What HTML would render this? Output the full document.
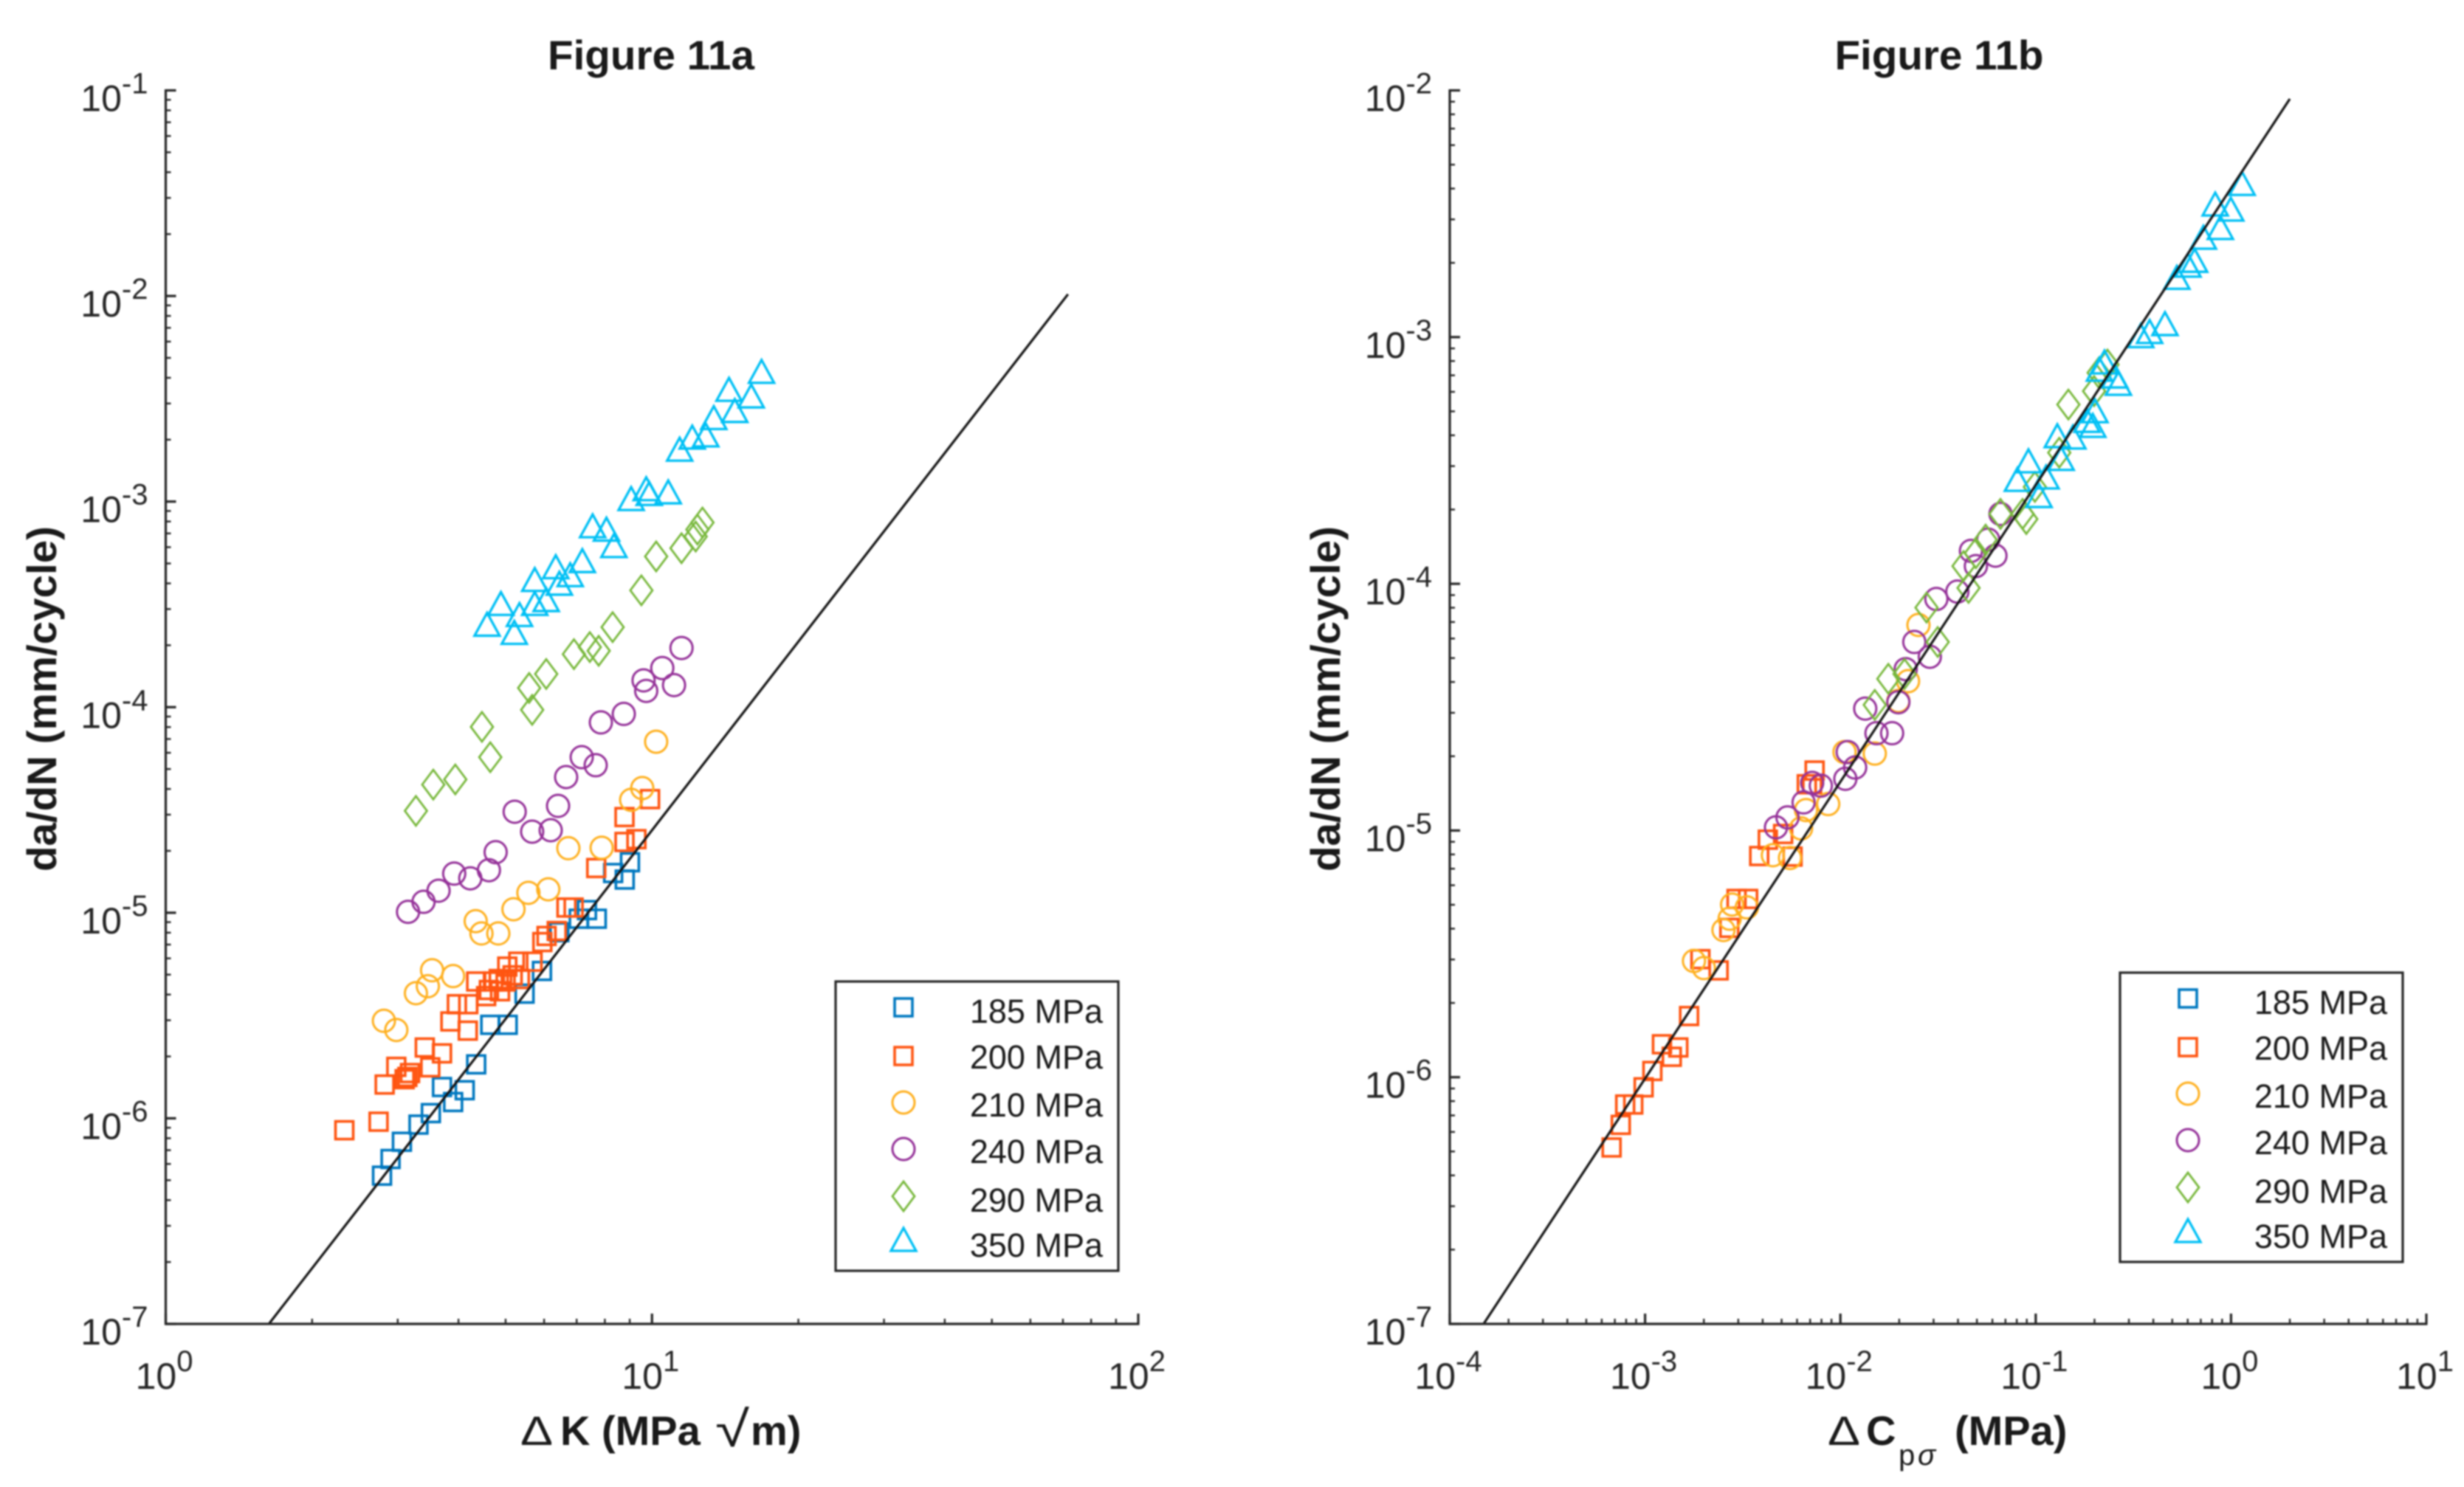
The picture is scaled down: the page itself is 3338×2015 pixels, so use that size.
<!DOCTYPE html>
<html lang="en">
<head>
<meta charset="utf-8">
<title>Figure 11a and 11b: crack growth rate</title>
<style>
html,body{margin:0;padding:0;background:#fff;}
#fig{display:block;filter:blur(1px);}
text{font-family:"Liberation Sans","DejaVu Sans",sans-serif;fill:#262626;}
.tick{font-size:50px;}
.title,.lab{font-size:56px;font-weight:bold;fill:#1a1a1a;}
.leg{font-size:45px;fill:#1a1a1a;}
</style>
</head>
<body>
<svg id="fig" xmlns="http://www.w3.org/2000/svg" width="3338" height="2015" viewBox="0 0 3338 2015">
  <rect width="3338" height="2015" fill="#ffffff"/>
  <g id="panelA">
    <text class="title" x="882" y="94" text-anchor="middle" textLength="280" lengthAdjust="spacingAndGlyphs">Figure 11a</text>
    <text class="lab" transform="translate(76,947) rotate(-90)" text-anchor="middle" textLength="468" lengthAdjust="spacingAndGlyphs">da/dN (mm/cycle)</text>
    <g>
      <text class="lab" x="705" y="1958" style="font-weight:normal" textLength="44" lengthAdjust="spacingAndGlyphs">Δ</text>
      <text class="lab" x="759" y="1958">K (MPa</text>
      <text class="lab" x="969" y="1960" style="font-weight:normal;font-size:68px" textLength="46" lengthAdjust="spacingAndGlyphs">√</text>
      <text class="lab" x="1017" y="1958">m)</text>
    </g>
  </g>
  <g id="panelB">
    <text class="title" x="2627" y="94" text-anchor="middle" textLength="283" lengthAdjust="spacingAndGlyphs">Figure 11b</text>
    <text class="lab" transform="translate(1815,947) rotate(-90)" text-anchor="middle" textLength="468" lengthAdjust="spacingAndGlyphs">da/dN (mm/cycle)</text>
    <g>
      <text class="lab" x="2476" y="1958" style="font-weight:normal" textLength="44" lengthAdjust="spacingAndGlyphs">Δ</text>
      <text class="lab" x="2528" y="1958">C</text>
      <text x="2572" y="1985" style="font-size:40px;fill:#1a1a1a">p</text>
      <text x="2598" y="1985" style="font-size:40px;font-style:italic;fill:#1a1a1a">σ</text>
      <text class="lab" x="2648" y="1958">(MPa)</text>
    </g>
  </g>
</svg>
<script>
// Legend and series definitions
const seriesLabels = ['185 MPa','200 MPa','210 MPa','240 MPa','290 MPa','350 MPa'];
const seriesColors = ['#0078C0','#FF5511','#FFB01F','#953299','#78B83C','#00C0F5'];
const seriesShapes = ['square','square','circle','circle','diamond','triangle'];

// Figure 11a: delta K (MPa sqrt m) vs da/dN (mm/cycle)
const a185X = [2.785,2.90,3.06,3.31,3.51,3.90,4.12,3.70,4.35,4.65,5.05,5.47,5.94,6.45,7.07,7.35,7.70,8.32,8.79,9.01];
const a185Y = [5.26e-7,6.34e-7,7.69e-7,9.32e-7,1.06e-6,1.20e-6,1.37e-6,1.42e-6,1.83e-6,2.85e-6,2.85e-6,4.04e-6,5.21e-6,8.04e-6,9.35e-6,1.03e-5,9.35e-6,1.56e-5,1.45e-5,1.76e-5];
const a200X = [2.33,2.74,2.82,2.98,3.10,3.18,3.14,3.41,3.50,3.70,3.85,4.18,3.97,4.19,4.35,4.56,4.62,4.87,4.71,4.84,5.00,5.17,5.04,5.31,5.35,5.68,5.95,6.07,6.37,6.67,6.90,7.68,8.78,8.78,9.29,9.91];
const a200Y = [8.75e-7,9.63e-7,1.46e-6,1.78e-6,1.55e-6,1.66e-6,1.59e-6,2.21e-6,1.77e-6,2.07e-6,2.96e-6,2.67e-6,3.59e-6,3.59e-6,4.63e-6,3.93e-6,4.21e-6,4.15e-6,4.63e-6,4.76e-6,4.63e-6,4.96e-6,5.47e-6,5.78e-6,4.76e-6,5.78e-6,7.20e-6,7.71e-6,8.15e-6,1.06e-5,1.06e-5,1.65e-5,2.92e-5,2.21e-5,2.28e-5,3.57e-5];
const a210X = [2.81,2.98,3.53,3.90,3.46,3.27,4.34,4.46,4.83,5.19,5.57,6.12,6.73,7.88,9.06,9.55,10.2];
const a210Y = [2.98e-6,2.69e-6,5.25e-6,4.92e-6,4.39e-6,4.06e-6,9.10e-6,7.93e-6,7.93e-6,1.04e-5,1.25e-5,1.30e-5,2.06e-5,2.07e-5,3.54e-5,4.04e-5,6.79e-5];
const a240X = [3.15,3.39,3.64,3.92,4.23,4.62,4.77,5.22,5.67,6.19,6.41,6.66,7.17,7.66,7.85,8.75,9.61,9.73,10.5,11.1,11.5];
const a240Y = [1.01e-5,1.13e-5,1.28e-5,1.55e-5,1.47e-5,1.61e-5,1.97e-5,3.10e-5,2.48e-5,2.52e-5,3.31e-5,4.57e-5,5.71e-5,5.22e-5,8.43e-5,9.27e-5,1.35e-4,1.20e-4,1.55e-4,1.28e-4,1.94e-4];
const a290X = [3.27,3.55,3.94,4.65,4.47,5.67,5.59,6.06,6.91,7.45,7.77,8.30,9.51,10.2,11.5,12.3,12.4,12.7];
const a290Y = [3.13e-5,4.20e-5,4.45e-5,5.71e-5,8.02e-5,9.70e-5,1.24e-4,1.45e-4,1.81e-4,1.96e-4,1.88e-4,2.45e-4,3.70e-4,5.41e-4,5.93e-4,6.76e-4,7.31e-4,7.91e-4];
const a350X = [4.58,4.89,5.21,5.34,5.74,6.06,5.74,6.34,6.45,6.79,7.19,7.55,8.06,8.35,9.06,9.73,9.87,10.8,11.4,12.1,12.9,13.4,14.8,14.4,16.0,16.8];
const a350Y = [2.52e-4,3.18e-4,2.30e-4,2.81e-4,3.18e-4,3.32e-4,4.16e-4,4.80e-4,3.99e-4,4.39e-4,5.14e-4,7.59e-4,7.31e-4,6.08e-4,1.03e-3,1.15e-3,1.09e-3,1.11e-3,1.79e-3,2.05e-3,2.10e-3,2.55e-3,2.76e-3,3.50e-3,3.25e-3,4.28e-3];
const aFitX = [1.63,71.7];
const aFitY = [1e-7,1.02e-2];
const aXTickExps = [0,1,2];
const aYTickExps = [-7,-6,-5,-4,-3,-2,-1];

// Figure 11b: delta C p-sigma (MPa) vs da/dN (mm/cycle); no 185 MPa marks are visible
const b185X = [];
const b185Y = [];
const b200X = [6.74e-4,7.51e-4,7.91e-4,8.70e-4,9.83e-4,1.09e-3,1.22e-3,1.37e-3,1.48e-3,1.68e-3,2.38e-3,1.92e-3,2.70e-3,2.94e-3,3.37e-3,3.84e-3,4.25e-3,5.09e-3,5.69e-3,6.73e-3,7.38e-3,7.17e-3];
const b200Y = [5.19e-7,6.41e-7,7.75e-7,7.75e-7,9.10e-7,1.06e-6,1.36e-6,1.21e-6,1.32e-6,1.77e-6,2.71e-6,3.01e-6,4.03e-6,5.28e-6,5.28e-6,7.88e-6,9.18e-6,9.68e-6,7.84e-6,1.54e-5,1.75e-5,1.54e-5];
const b210X = [1.78e-3,2.00e-3,2.79e-3,3.32e-3,2.52e-3,2.71e-3,4.51e-3,5.52e-3,6.29e-3,6.67e-3,8.66e-3,1.05e-2,1.50e-2,1.98e-2,2.22e-2,2.51e-2];
const b210Y = [2.96e-6,2.77e-6,5.01e-6,4.88e-6,3.95e-6,4.39e-6,7.94e-6,7.74e-6,1.02e-5,1.21e-5,1.28e-5,2.08e-5,2.05e-5,3.35e-5,4.03e-5,6.81e-5];
const b240X = [4.68e-3,5.36e-3,6.48e-3,7.17e-3,7.94e-3,1.06e-2,1.19e-2,1.09e-2,1.53e-2,1.84e-2,1.34e-2,1.98e-2,2.16e-2,2.87e-2,2.39e-2,3.10e-2,3.97e-2,4.66e-2,6.22e-2,4.94e-2,5.71e-2,6.60e-2];
const b240Y = [1.03e-5,1.13e-5,1.30e-5,1.56e-5,1.52e-5,1.62e-5,1.80e-5,2.08e-5,2.48e-5,2.48e-5,3.12e-5,3.31e-5,4.51e-5,5.06e-5,5.81e-5,8.68e-5,9.30e-5,1.36e-4,1.30e-4,1.18e-4,1.51e-4,1.92e-4];
const b290X = [1.50e-2,1.76e-2,2.13e-2,3.15e-2,2.76e-2,4.53e-2,4.27e-2,4.94e-2,5.54e-2,6.60e-2,8.57e-2,8.95e-2,9.90e-2,0.132,0.147,0.199,0.210,0.233];
const b290Y = [3.23e-5,4.12e-5,4.31e-5,5.81e-5,8.01e-5,9.62e-5,1.18e-4,1.33e-4,1.51e-4,1.92e-4,1.92e-4,1.83e-4,2.47e-4,3.40e-4,5.33e-4,6.04e-4,7.17e-4,7.74e-4];
const b350X = [8.06e-2,9.18e-2,0.104,0.113,0.135,0.129,0.155,0.183,0.196,0.201,0.212,0.225,0.254,0.265,0.345,0.383,0.459,0.528,0.602,0.651,0.722,0.882,0.830,0.997,1.14];
const b350Y = [2.64e-4,3.14e-4,2.27e-4,2.70e-4,3.21e-4,3.97e-4,3.92e-4,4.58e-4,4.37e-4,5.01e-4,7.38e-4,7.90e-4,6.93e-4,6.47e-4,1.01e-3,1.05e-3,1.13e-3,1.74e-3,1.95e-3,2.04e-3,2.53e-3,2.77e-3,3.45e-3,3.29e-3,4.18e-3];
const bFitX = [1.49e-4,2.0];
const bFitY = [1e-7,9.24e-3];
const bXTickExps = [-4,-3,-2,-1,0,1];
const bYTickExps = [-7,-6,-5,-4,-3,-2];

const NS = 'http://www.w3.org/2000/svg';
const INK = '#262626';

function node(parent, tag, attrs) {
  const el = document.createElementNS(NS, tag);
  for (const k in attrs) el.setAttribute(k, attrs[k]);
  parent.appendChild(el);
  return el;
}

function marker(parent, shape, color, cx, cy) {
  const base = {fill: 'none', stroke: color};
  let el;
  if (shape === 'square') {
    el = node(parent, 'rect', Object.assign(base, {x: cx - 12, y: cy - 12, width: 24, height: 24, 'stroke-width': 3.6}));
  } else if (shape === 'circle') {
    el = node(parent, 'circle', Object.assign(base, {cx: cx, cy: cy, r: 15, 'stroke-width': 3}));
  } else if (shape === 'diamond') {
    const pts = [[cx, cy - 20], [cx + 15, cy], [cx, cy + 20], [cx - 15, cy]].map(p => p.join(',')).join(' ');
    el = node(parent, 'polygon', Object.assign(base, {points: pts, 'stroke-width': 2.8}));
  } else {
    const pts = [[cx, cy - 16], [cx + 17, cy + 15], [cx - 17, cy + 15]].map(p => p.join(',')).join(' ');
    el = node(parent, 'polygon', Object.assign(base, {points: pts, 'stroke-width': 3.3}));
  }
  return el;
}

function powerLabel(parent, exp, x, y, anchor, name) {
  const t = node(parent, 'text', {class: 'tick', x: x, y: y, 'text-anchor': anchor});
  
  
  const base = node(t, 'tspan', {});
  base.textContent = '10';
  const sup = node(t, 'tspan', {dy: -24, style: 'font-size:40px'});
  sup.textContent = String(exp);
  return t;
}

function drawPanel(p) {
  const root = document.getElementById(p.rootId);
  const xMin = p.xExps[0], xMax = p.xExps[p.xExps.length - 1];
  const yMin = p.yExps[0], yMax = p.yExps[p.yExps.length - 1];
  const sx = v => p.left + (Math.log10(v) - xMin) / (xMax - xMin) * (p.right - p.left);
  const sy = v => p.bottom - (Math.log10(v) - yMin) / (yMax - yMin) * (p.bottom - p.top);

  // Series marks, drawn first so the fit line and axes sit on top
  const seriesGroup = node(root, 'g', {});
  
  
  p.series.forEach((s, i) => {
    const g = node(seriesGroup, 'g', {});
    
    
    s.x.forEach((xv, j) => {
      const m = marker(g, seriesShapes[i], seriesColors[i], sx(xv), sy(s.y[j]));
      
      
    });
  });

  // Fit line
  const linePts = p.fitX.map((xv, i) => sx(xv) + ',' + sy(p.fitY[i])).join(' ');
  const fit = node(root, 'polyline', {points: linePts, fill: 'none', stroke: '#141414', 'stroke-width': 3.2});
  
  

  // Axes
  const xAxis = node(root, 'g', {stroke: INK, 'stroke-width': 3.2, fill: 'none'});
  
  
  node(xAxis, 'line', {x1: p.left - 1.5, x2: p.right + 1.5, y1: p.bottom, y2: p.bottom});
  const yAxis = node(root, 'g', {stroke: INK, 'stroke-width': 3.2, fill: 'none'});
  
  
  node(yAxis, 'line', {x1: p.left, x2: p.left, y1: p.top - 1.5, y2: p.bottom + 1.5});

  p.xExps.forEach((e, i) => {
    const X = sx(Math.pow(10, e));
    node(xAxis, 'line', {x1: X, x2: X, y1: p.bottom, y2: p.bottom - 14});
    powerLabel(root, e, X - 2, 1882, 'middle', 'x-tick-label');
    if (i < p.xExps.length - 1) {
      for (let m = 2; m < 10; m++) {
        const Xm = sx(m * Math.pow(10, e));
        node(xAxis, 'line', {x1: Xm, x2: Xm, y1: p.bottom, y2: p.bottom - 7, 'stroke-width': 2.4});
      }
    }
  });
  p.yExps.forEach((e, i) => {
    const Y = sy(Math.pow(10, e));
    node(yAxis, 'line', {x1: p.left, x2: p.left + 14, y1: Y, y2: Y});
    powerLabel(root, e, p.left - 24, Y + 28, 'end', 'y-tick-label');
    if (i < p.yExps.length - 1) {
      for (let m = 2; m < 10; m++) {
        const Ym = sy(m * Math.pow(10, e));
        node(yAxis, 'line', {x1: p.left, x2: p.left + 7, y1: Ym, y2: Ym, 'stroke-width': 2.4});
      }
    }
  });

  // Legend
  const lx = p.legendX, ly = p.legendY;
  const legend = node(root, 'g', {});
  
  
  node(legend, 'rect', {x: lx, y: ly, width: 383, height: 392, fill: '#ffffff', stroke: INK, 'stroke-width': 3.2});
  const markerRowY = [35, 101, 164, 227, 291, 350];
  const textRowY = [56, 118, 183, 246, 312, 373];
  seriesLabels.forEach((lab, i) => {
    const entry = node(legend, 'g', {});
    
    
    marker(entry, seriesShapes[i], seriesColors[i], lx + 92, ly + markerRowY[i]);
    const t = node(entry, 'text', {class: 'leg', x: lx + 362, y: ly + textRowY[i], 'text-anchor': 'end'});
    t.textContent = lab;
  });
}

drawPanel({
  rootId: 'panelA', left: 224.5, right: 1542, top: 122.5, bottom: 1794,
  xExps: aXTickExps, yExps: aYTickExps, fitX: aFitX, fitY: aFitY,
  legendX: 1132, legendY: 1330,
  series: [{x: a185X, y: a185Y}, {x: a200X, y: a200Y}, {x: a210X, y: a210Y}, {x: a240X, y: a240Y}, {x: a290X, y: a290Y}, {x: a350X, y: a350Y}]
});
drawPanel({
  rootId: 'panelB', left: 1964, right: 3287, top: 122.5, bottom: 1794,
  xExps: bXTickExps, yExps: bYTickExps, fitX: bFitX, fitY: bFitY,
  legendX: 2872, legendY: 1318,
  series: [{x: b185X, y: b185Y}, {x: b200X, y: b200Y}, {x: b210X, y: b210Y}, {x: b240X, y: b240Y}, {x: b290X, y: b290Y}, {x: b350X, y: b350Y}]
});
</script>
</body>
</html>
